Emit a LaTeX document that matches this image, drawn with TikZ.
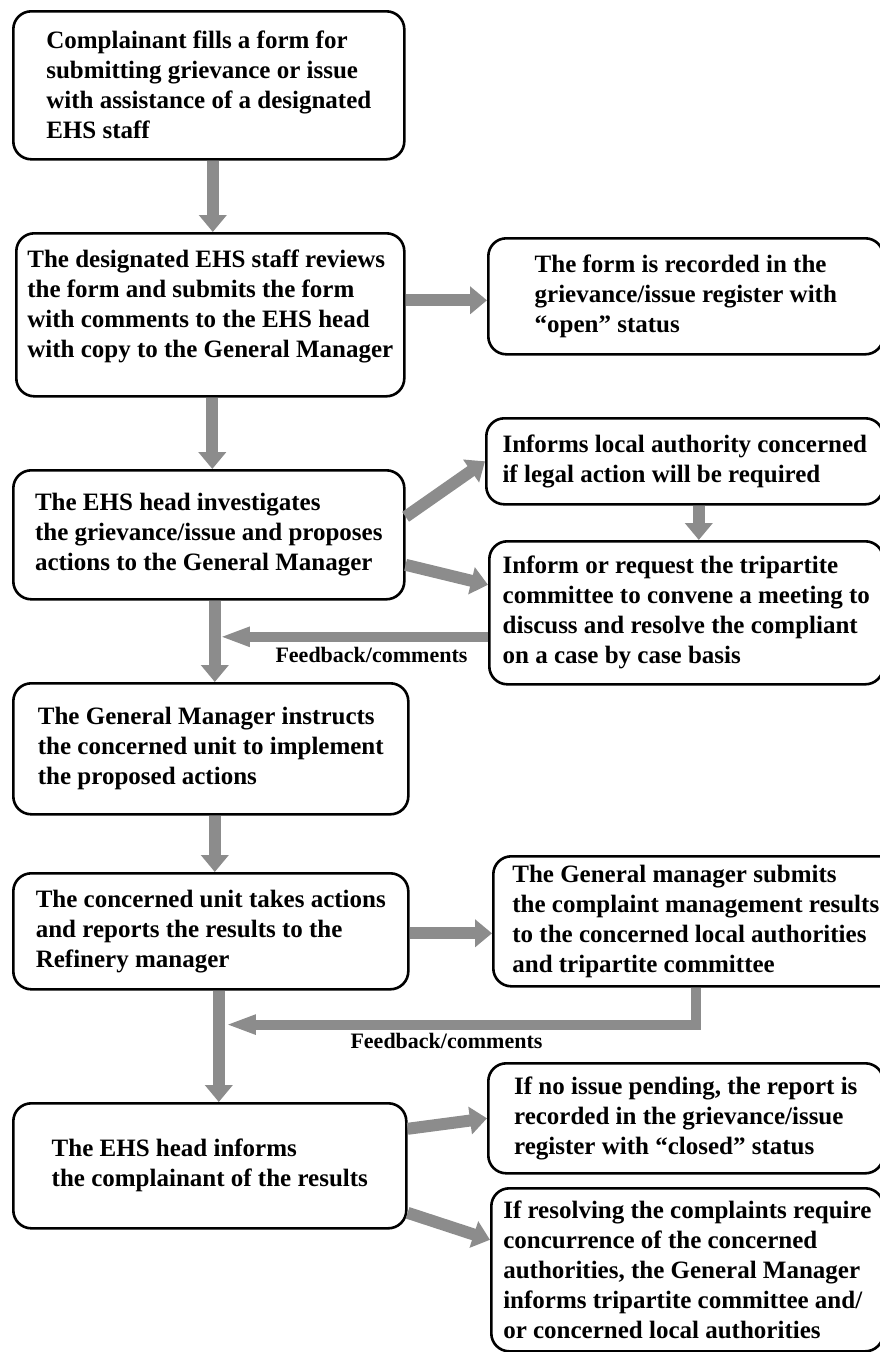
\documentclass[tikz,border=0pt]{standalone}
\usepackage{fontspec}
\setmainfont{Liberation Serif}
\usetikzlibrary{arrows.meta}
\definecolor{arrowgray}{gray}{0.55}

\begin{document}
\begin{tikzpicture}[
  x=1pt, y=-1pt,
  box/.style={draw, line width=2.6pt, rounded corners=18pt, align=left,
    anchor=north west, inner sep=0pt,
    font=\fontsize{25}{30}\selectfont\bfseries},
  flow/.style={draw=arrowgray, line width=12pt,
    -{Triangle[length=17pt,width=27pt]}},
  back/.style={draw=arrowgray, line width=10pt,
    -{Triangle[length=30pt,width=18pt]}},
  lbl/.style={anchor=base west, font=\fontsize{22}{26}\selectfont\bfseries}]
\useasboundingbox (0,0) rectangle (879,1352);

\node [box, minimum width=391pt, minimum height=148pt] (a) at (12,10)
  {Complainant fills a form for\\submitting grievance or issue\\
   with assistance of a designated\\EHS staff};
\node [box, minimum width=388pt, minimum height=163pt] (b) at (15,232)
  {The designated EHS staff reviews\\the form and submits the form\\
   with comments to the EHS head\\with copy to the General Manager\\[-8pt]\mbox{}};
\node [box, minimum width=395pt, minimum height=116pt] (c) at (487,237)
  {The form is recorded in the\\grievance/issue register with\\
   ``open'' status};
\node [box, minimum width=391pt, minimum height=129pt] (d) at (12,469)
  {The EHS head investigates\\the grievance/issue and proposes\\
   actions to the General Manager};
\node [box, minimum width=397pt, minimum height=86pt] (e) at (485,417)
  {Informs local authority concerned\\if legal action will be required};
\node [box, minimum width=394pt, minimum height=143pt] (f) at (488,540)
  {Inform or request the tripartite\\committee to convene a meeting to\\
   discuss and resolve the compliant\\on a case by case basis};
\node [box, minimum width=395pt, minimum height=131pt] (g) at (12,682)
  {The General Manager instructs\\the concerned unit to implement\\
   the proposed actions};
\node [box, minimum width=395pt, minimum height=116pt] (h) at (12,872)
  {The concerned unit takes actions\\and reports the results to the\\
   Refinery manager};
\node [box, minimum width=405pt, minimum height=130pt] (i) at (492,855)
  {The General manager submits\\the complaint management results\\
   to the concerned local authorities\\and tripartite committee};
\node [box, minimum width=393pt, minimum height=125pt] (j) at (12,1102)
  {The EHS head informs\\the complainant of the results};
\node [box, minimum width=395pt, minimum height=110pt] (k) at (487,1062)
  {If no issue pending, the report is\\recorded in the grievance/issue\\
   register with ``closed'' status};
\node [box, minimum width=392pt, minimum height=163pt] (l) at (490,1187)
  {If resolving the complaints require\\concurrence of the concerned\\
   authorities, the General Manager\\informs tripartite committee and/\\
   or concerned local authorities};

\node [lbl] (m) at (272,662) {Feedback/comments};
\node [lbl] (n) at (347,1048) {Feedback/comments};

\draw [flow] ([xshift=4pt]a.south) -- ([xshift=4pt]a.south |- b.north);
\draw [flow] ([yshift=-4pt]b.east |- c.west) -- ([yshift=-4pt]c.west);
\draw [flow] ([xshift=2pt]b.south) -- ([xshift=2pt]b.south |- d.north);
\draw [flow] ([yshift=18pt]d.east) -- (e.west);
\draw [flow] ([yshift=-30pt]d.east) -- ([yshift=28pt]f.west);
\draw [flow] ([xshift=14pt]e.south) -- ([xshift=14pt]e.south |- f.north);
\draw [back] ([yshift=-24pt]f.west) -- ([xshift=11pt,yshift=-24pt]d.south |- f.west);
\draw [flow] ([xshift=6pt]d.south) -- ([xshift=6pt]d.south |- g.north);
\draw [flow] ([xshift=4pt]g.south) -- ([xshift=4pt]g.south |- h.north);
\draw [flow] ([yshift=-12pt]h.east |- i.west) -- ([yshift=-12pt]i.west);
\draw [flow] ([xshift=8pt]h.south) -- ([xshift=8pt]h.south |- j.north);
\draw [back] (i.south) |- ([xshift=15pt,yshift=-34pt]h.south);
\draw [flow] ([yshift=37pt]j.east) -- (k.west);
\draw [flow] ([yshift=-47pt]j.east) -- ([yshift=30pt]l.west);
\end{tikzpicture}
\end{document}
